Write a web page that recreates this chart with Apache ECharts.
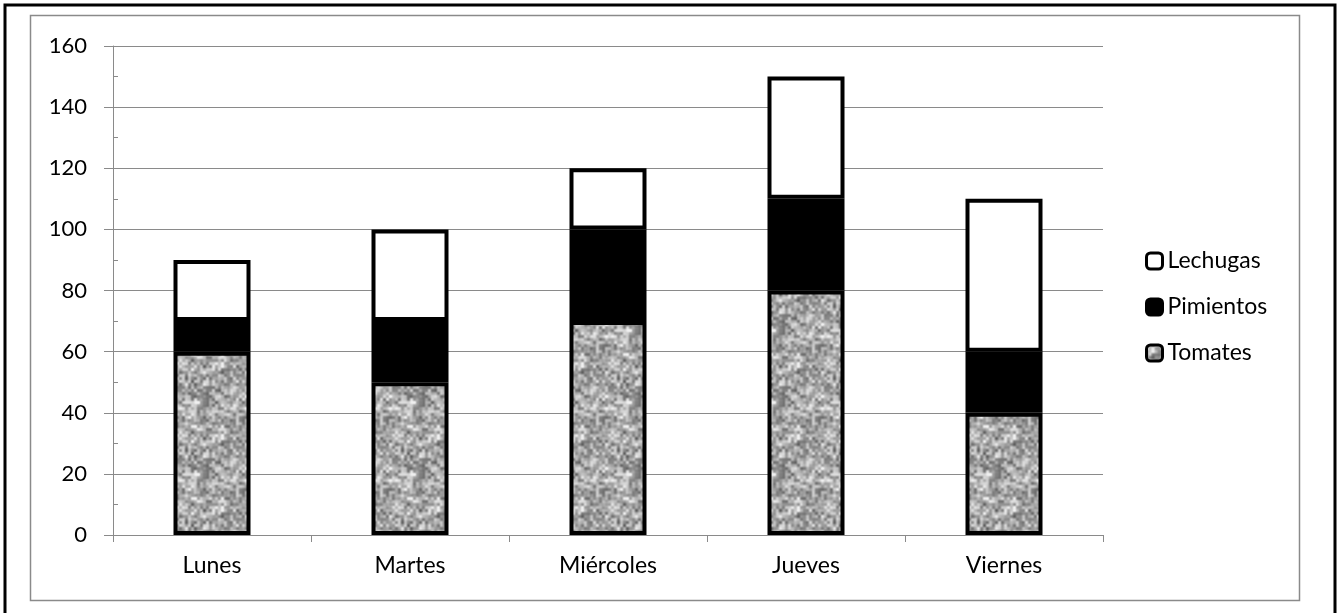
<!DOCTYPE html>
<html>
<head>
<meta charset="utf-8">
<script src="https://cdn.jsdelivr.net/npm/echarts@6/dist/echarts.min.js"></script>
<style>
  html, body { margin: 0; padding: 0; background: #fff; }
  #chart { width: 1341px; height: 613px; }
</style>
</head>
<body>
<div id="chart"></div>
<script>
  // chart data
  const categories = ['Lunes', 'Martes', 'Miércoles', 'Jueves', 'Viernes'];
  const tomates = [60, 50, 70, 80, 40];
  const pimientos = [10, 20, 30, 30, 20];
  const lechugas = [20, 30, 20, 40, 50];
  const seriesNames = ['Tomates', 'Pimientos', 'Lechugas'];
  const legendOrder = ['Lechugas', 'Pimientos', 'Tomates'];

  const FONT = 'Lato';
  const GRAY = '#8a8a8a';

  // grainy gray texture for the Tomates bars (deterministic hash noise)
  function hash(x, y) {
    let n = Math.imul(x, 374761393) + Math.imul(y, 668265263);
    n = Math.imul(n ^ (n >>> 13), 1274126177);
    return ((n ^ (n >>> 16)) >>> 0) / 4294967295;
  }
  function valueNoise(px, py, cell, size, seed) {
    const cells = size / cell;
    const gx = px / cell, gy = py / cell;
    const x0 = Math.floor(gx), y0 = Math.floor(gy);
    const fx = gx - x0, fy = gy - y0;
    const sx = fx * fx * (3 - 2 * fx), sy = fy * fy * (3 - 2 * fy);
    const g = (i, j) => hash(((i % cells) + cells) % cells + seed, ((j % cells) + cells) % cells + seed * 7);
    const a = g(x0, y0), b = g(x0 + 1, y0), c = g(x0, y0 + 1), d = g(x0 + 1, y0 + 1);
    return (a * (1 - sx) + b * sx) * (1 - sy) + (c * (1 - sx) + d * sx) * sy;
  }
  function makeTexture() {
    const size = 72;
    const cv = document.createElement('canvas');
    cv.width = size; cv.height = size;
    const ctx = cv.getContext('2d');
    const img = ctx.createImageData(size, size);
    for (let y = 0; y < size; y++) {
      for (let x = 0; x < size; x++) {
        const v = 0.6 * valueNoise(x, y, 3, size, 11) + 0.4 * valueNoise(x, y, 6, size, 29);
        let g = Math.round(85 + v * 170);
        g = Math.max(80, Math.min(240, g));
        const k = (y * size + x) * 4;
        img.data[k] = g; img.data[k + 1] = g; img.data[k + 2] = g; img.data[k + 3] = 255;
      }
    }
    ctx.putImageData(img, 0, 0);
    return cv;
  }
  const texture = makeTexture();

  const chart = echarts.init(document.getElementById('chart'), null, { renderer: 'canvas' });

  const barStyle = {
    borderColor: '#000',
    borderWidth: 4
  };

  chart.setOption({
    animation: false,
    backgroundColor: '#fff',
    grid: {
      left: 113,
      right: 238,
      top: 46,
      bottom: 78
    },
    legend: {
      orient: 'vertical',
      left: 1140,
      top: 244,
      data: legendOrder,
      itemWidth: 16,
      itemHeight: 16,
      itemGap: 22,
      itemStyle: { borderWidth: 3 },
      textStyle: { fontFamily: FONT, fontSize: 23, color: '#000', lineHeight: 24 },
      selectedMode: false
    },
    xAxis: {
      type: 'category',
      data: categories,
      axisLine: { lineStyle: { color: GRAY, width: 1 } },
      axisTick: { show: true, length: 7, lineStyle: { color: GRAY } },
      axisLabel: { fontFamily: FONT, fontSize: 23, color: '#000', margin: 19 }
    },
    yAxis: [
      {
        type: 'value',
        min: 0,
        max: 160,
        interval: 20,
        axisLine: { show: true, lineStyle: { color: GRAY, width: 1 } },
        axisTick: { show: true, length: 9, lineStyle: { color: GRAY } },
        splitLine: { lineStyle: { color: GRAY, width: 1 } },
        axisLabel: { fontFamily: FONT, fontSize: 22, color: '#000', margin: 26 }
      },
      {
        // second axis only for the short inside minor ticks
        type: 'value',
        position: 'left',
        min: 0,
        max: 160,
        interval: 10,
        axisLine: { show: false },
        axisTick: { show: true, inside: true, length: 5, lineStyle: { color: GRAY } },
        splitLine: { show: false },
        axisLabel: { show: false }
      }
    ],
    series: [
      {
        name: seriesNames[0],
        type: 'bar',
        stack: 'total',
        barWidth: 77,
        data: tomates,
        itemStyle: Object.assign({ color: { image: texture, repeat: 'repeat' } }, barStyle)
      },
      {
        name: seriesNames[1],
        type: 'bar',
        stack: 'total',
        data: pimientos,
        itemStyle: Object.assign({ color: '#000' }, barStyle)
      },
      {
        name: seriesNames[2],
        type: 'bar',
        stack: 'total',
        data: lechugas,
        itemStyle: Object.assign({ color: '#fff' }, barStyle)
      }
    ],
    graphic: [
      {
        type: 'rect',
        silent: true,
        shape: { x: 5, y: 5, width: 1330, height: 620 },
        style: { fill: null, stroke: '#000', lineWidth: 3 },
        z: 100
      },
      {
        type: 'rect',
        silent: true,
        shape: { x: 30.5, y: 15.5, width: 1269, height: 585 },
        style: { fill: null, stroke: GRAY, lineWidth: 1.5 },
        z: 100
      }
    ]
  });
</script>
</body>
</html>
